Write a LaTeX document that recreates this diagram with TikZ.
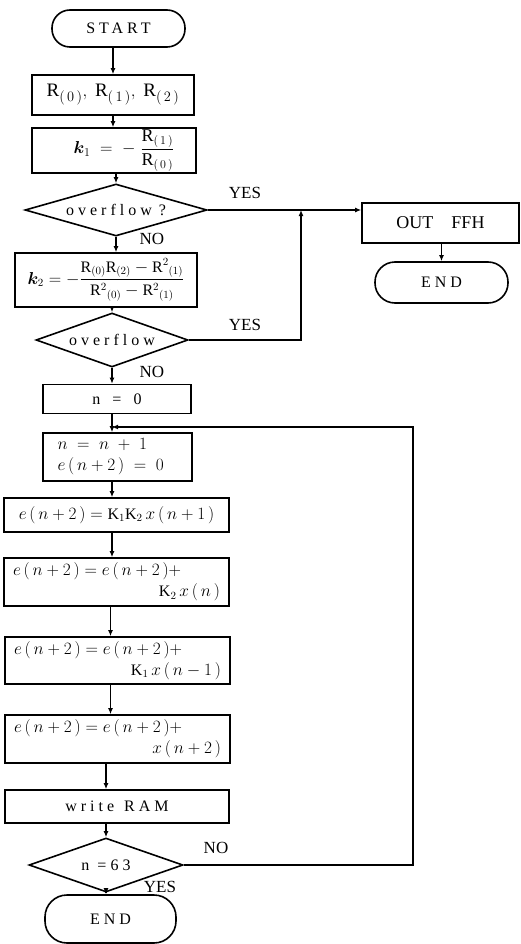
\documentclass[tikz,border=0pt]{standalone}
\usepackage{fontspec}
\usepackage{amsmath}
\usepackage{bm}
\setmainfont{Liberation Serif}
\newfontfamily\widefont[LetterSpace=25]{Liberation Serif}
\usetikzlibrary{arrows.meta,shapes.geometric}
\newcommand{\eterm}{e\,(\,n+2\,)}
\newcommand{\twolines}[2]{\parbox{207pt}{#1\\\null\hfill #2}}
\begin{document}
\begin{tikzpicture}[x=1pt, y=-1pt, line width=1.6pt,
	every node/.style={font=\fontsize{16}{21}\selectfont},
	box/.style={draw, rectangle, inner sep=0pt},
	term/.style={draw, rectangle, rounded corners=18pt, inner sep=0pt, font=\widefont\fontsize{16}{20}\selectfont},
	test/.style={draw, diamond, aspect=3.2, inner sep=0pt, font=\widefont\fontsize{16}{20}\selectfont},
	tag/.style={inner sep=0pt, font=\fontsize{17}{20}\selectfont},
	arr/.style={-{Latex[length=6pt,width=5pt]}}]
	\useasboundingbox (0,0) rectangle (521,944);
	% main column
	\node[term, minimum width=133pt, minimum height=37pt] (Start) at (118.5, 28.5) {START};
	\node[box, minimum width=162pt, minimum height=40pt, font=\fontsize{19}{20}\selectfont] (Rvals) at (113, 95) {$\mathrm{R}_{(\,0\,)},\;\mathrm{R}_{(\,1\,)},\;\mathrm{R}_{(\,2\,)}$};
	\node[box, minimum width=164pt, minimum height=45pt, font=\fontsize{18}{20}\selectfont] (Kone) at (114, 150.5) {\hspace{20pt}$\bm{k}_1 \;=\; -\;\dfrac{\mathrm{R}_{(\,1\,)}}{\mathrm{R}_{(\,0\,)}}$};
	\node[test, minimum width=182pt, minimum height=52pt] (Over1) at (116, 210) {overflow\hspace{-1pt} ?};
	\node[box, minimum width=182pt, minimum height=54pt] (Ktwo) at (106, 280) {$\bm{k}_2 = -\dfrac{\mathrm{R}_{(0)}\mathrm{R}_{(2)}-\mathrm{R}^2{}_{(1)}}{\mathrm{R}^2{}_{(0)}-\mathrm{R}^2{}_{(1)}}$};
	\node[test, minimum width=152pt, minimum height=54pt] (Over2) at (112, 340) {overflow};
	\node[box, minimum width=148pt, minimum height=29pt] (Nzero) at (117, 399) {n\hspace{12pt}=\hspace{12pt}0};
	\node[box, minimum width=149pt, minimum height=48pt] (Ninc) at (117.5, 457) {\parbox{120pt}{$n \;=\; n \;+\; 1$\\$\eterm\;=\;0$}};
	\node[box, minimum width=225pt, minimum height=34pt] (Eone) at (116.5, 515) {$\eterm=\mathrm{K}_1\mathrm{K}_2\,x\,(\,n+1\,)$};
	\node[box, minimum width=225pt, minimum height=48pt] (Etwo) at (116.5, 582) {\twolines{$\eterm=\eterm+$}{$\mathrm{K}_2\,x\,(\,n\,)$}};
	\node[box, minimum width=225pt, minimum height=47pt] (Ethree) at (117.5, 660.5) {\twolines{$\eterm=\eterm+$}{$\mathrm{K}_1\,x\,(\,n-1\,)$}};
	\node[box, minimum width=225pt, minimum height=48pt] (Efour) at (117.5, 739) {\twolines{$\eterm=\eterm+$}{$x\,(\,n+2\,)$}};
	\node[box, minimum width=224pt, minimum height=33pt, font=\widefont\fontsize{16}{20}\selectfont] (Write) at (117, 806.5) {write\hspace{10pt}RAM};
	\node[test, minimum width=154pt, minimum height=54pt] (Last) at (106, 865) {n =63};
	\node[term, minimum width=131pt, minimum height=48pt, rounded corners=22pt] (Stop) at (110.5, 919) {END};
	% right branch
	\node[box, minimum width=157pt, minimum height=40pt, font=\fontsize{18}{20}\selectfont] (Out) at (440.5, 223) {OUT\hspace{18pt}FFH};
	\node[term, minimum width=133pt, minimum height=41pt, rounded corners=20pt] (Stop2) at (441.5, 282.5) {END};
	% labels
	\node[tag] (yes1) at (245, 193) {YES};
	\node[tag] (no1) at (152, 239) {NO};
	\node[tag] (yes2) at (245, 325) {YES};
	\node[tag] (no2) at (152, 372) {NO};
	\node[tag] (no3) at (216, 848) {NO};
	\node[tag] (yes3) at (160, 887) {YES};
	\coordinate (yesjoin) at (301, 210);
	\coordinate (loop) at (413, 427);
	% connectors
	\draw[arr] (Start.south -| Rvals.north) -- (Rvals.north);
	\draw[arr] (Rvals.south) -- (Rvals.south |- Kone.north);
	\draw[arr] (Kone.south -| Over1.north) -- (Over1.north);
	\draw[arr] (Over1.south) -- (Over1.south |- Ktwo.north);
	\draw[arr] (Ktwo.south -| Over2.north) -- (Over2.north);
	\draw[arr] (Over2.south) -- (Over2.south |- Nzero.north);
	\draw[arr] (Nzero.south -| Over2.south) -- (Ninc.north -| Over2.south);
	\draw[arr] (Ninc.south -| Over2.south) -- (Eone.north -| Over2.south);
	\draw[arr] (Eone.south -| Over2.south) -- (Etwo.north -| Over2.south);
	\draw[arr] (Etwo.south -| Stop.north) -- (Ethree.north -| Stop.north);
	\draw[arr] (Ethree.south -| Stop.north) -- (Efour.north -| Stop.north);
	\draw[arr] (Efour.south -| Last.north) -- (Write.north -| Last.north);
	\draw[arr] (Write.south -| Last.north) -- (Last.north);
	\draw[arr] (Last.south) -- (Last.south |- Stop.north);
	\draw[arr] (Over1.east) -- (Over1.east -| Out.west);
	\draw[arr] (Over2.east) -| (yesjoin);
	\draw[arr] (Out.south -| Stop2.north) -- (Stop2.north);
	\draw[arr] (Last.east) -| (loop) -- (loop -| Over2.south);
\end{tikzpicture}
\end{document}
